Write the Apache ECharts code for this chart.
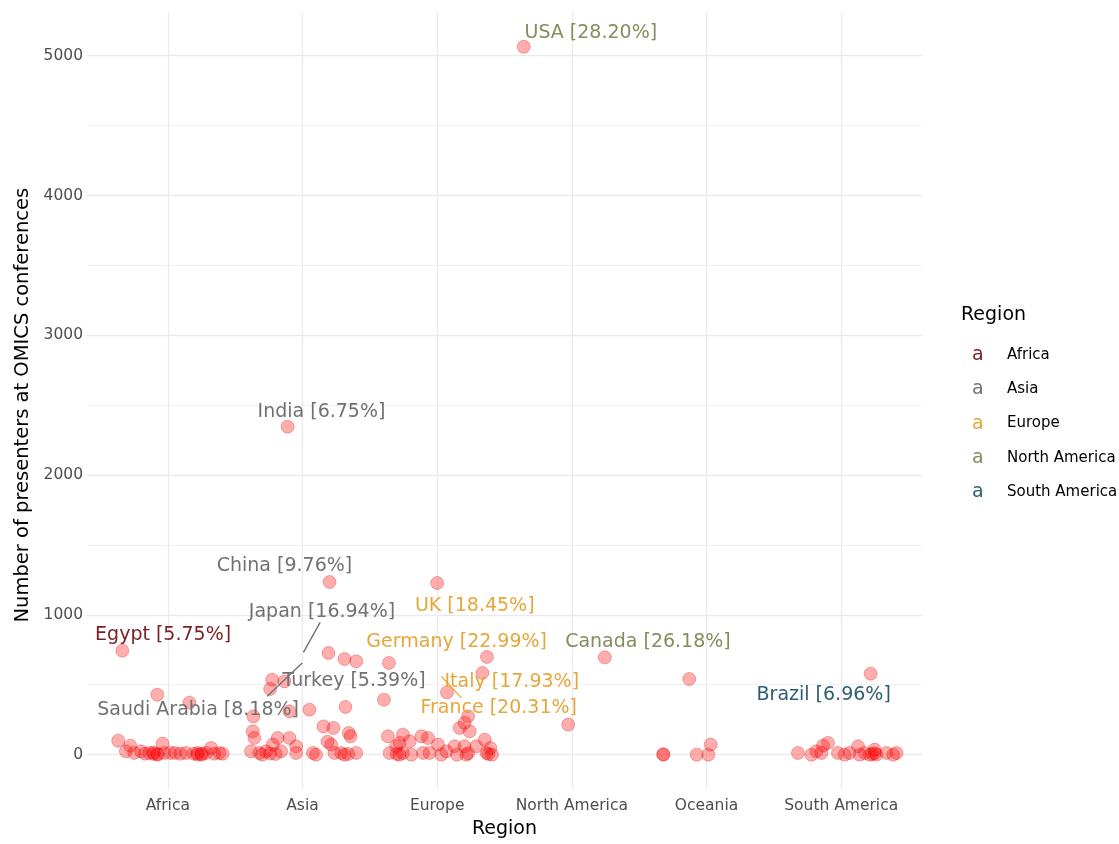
<!DOCTYPE html>
<html>
<head>
<meta charset="utf-8">
<script src="https://cdn.jsdelivr.net/npm/echarts@6/dist/echarts.min.js"></script>
<style>html,body{margin:0;padding:0;background:#fff}#c{width:1119px;height:844px}</style>
</head>
<body>
<div id="c"></div>
<script>
// ---- data (x = region index + jitter, y = number of presenters) ----
const regions = ['Africa', 'Asia', 'Europe', 'North America', 'Oceania', 'South America'];
const legendRegions = ['Africa', 'Asia', 'Europe', 'North America', 'South America'];

const africaPts = [[0.662,744],[0.922,429],[1.160,372],[0.632,100],
  [0.689,24],[0.721,64],[0.751,12],[0.801,24],[0.831,7],[0.863,12],[0.895,5],[0.924,5],[0.961,79],
  [0.974,12],[1.019,12],[1.053,12],[1.093,7],[1.135,12],[1.192,7],[1.221,12],[1.251,7],[1.284,12],
  [1.321,48],[1.345,7],[1.383,12],[1.407,7],[0.924,0],[1.221,0],[1.251,0],[0.895,15]];
const asiaPts = [[1.889,2346],[2.201,1235],
  [2.193,727],[2.312,684],[2.399,668],[1.775,536],[1.866,524],[1.760,470],[1.636,274],[1.903,310],
  [2.052,322],[2.319,341],[2.156,202],[2.230,191],[2.344,155],[2.357,131],
  [1.631,167],[1.643,119],[1.618,24],[1.680,12],[1.730,24],[1.779,72],[1.816,119],[1.841,24],
  [1.903,119],[1.953,60],[1.953,12],[2.077,12],[2.101,0],[2.213,72],[2.238,12],[2.287,12],
  [2.312,0],[2.399,12],[2.186,93],[1.700,0],[1.760,8],[1.800,5],[2.340,5]];
const europePts = [[3.000,1228],
  [2.642,656],[2.605,393],[3.370,699],[3.336,584],[3.073,446],[3.229,274],[3.204,227],[3.167,191],[3.241,167],
  [2.634,131],[2.647,12],[2.697,60],[2.721,84],[2.746,143],[2.746,12],[2.796,95],[2.808,0],[2.883,131],
  [2.895,12],[2.932,119],[2.944,12],[3.006,72],[3.031,0],[3.068,24],[3.130,60],[3.147,0],[3.204,60],
  [3.217,0],[3.291,60],[3.353,107],[3.366,12],[3.395,48],[3.407,0],[2.700,5],[2.720,0],[3.230,10],[3.380,5]];
const northAmericaPts = [[3.643,5064],[4.245,696],[3.973,215]];
const oceaniaPts = [[4.872,541],[4.679,0],[4.679,3],[4.927,0],[5.013,0],[5.031,72]];
const southAmericaPts = [[6.219,579],
  [5.679,12],[5.779,0],[5.816,24],[5.853,12],[5.865,64],[5.902,84],[5.976,12],[6.026,0],[6.063,12],
  [6.125,60],[6.137,0],[6.175,12],[6.212,0],[6.249,36],[6.262,0],[6.336,12],[6.386,0],[6.411,12],[6.230,5],[6.250,10]];

// country labels: [x, y, text]
const africaLabels = [[0.965, 858, 'Egypt [5.75%]']];
const asiaLabels = [[2.141, 2453, 'India [6.75%]'], [1.866, 1352, 'China [9.76%]'],
  [2.145, 1023, 'Japan [16.94%]'], [2.383, 529, 'Turkey [5.39%]'], [1.225, 322, 'Saudi Arabia [8.18%]']];
const europeLabels = [[3.279, 1066, 'UK [18.45%]'], [3.145, 808, 'Germany [22.99%]'],
  [3.554, 522, 'Italy [17.93%]'], [3.457, 336, 'France [20.31%]']];
const northAmericaLabels = [[4.141, 5165, 'USA [28.20%]'], [4.565, 808, 'Canada [26.18%]']];
const southAmericaLabels = [[5.870, 429, 'Brazil [6.96%]']];

// label connector segments
const asiaSegments = [[[2.131, 946], [2.007, 732]], [[1.998, 656], [1.738, 417]]];
const europeSegments = [[[3.031, 560], [3.180, 406]]];

const colors = {
  'Africa': '#7b1f22',
  'Asia': '#717171',
  'Europe': '#e6a73a',
  'North America': '#858d5a',
  'South America': '#2f5d74'
};
const FONT = 'DejaVu Sans';

const allPts = [].concat(africaPts, asiaPts, europePts, northAmericaPts, oceaniaPts, southAmericaPts);

const labelSets = [
  ['Africa', africaLabels], ['Asia', asiaLabels], ['Europe', europeLabels],
  ['North America', northAmericaLabels], ['South America', southAmericaLabels]
];

const chart = echarts.init(document.getElementById('c'), null, {renderer: 'canvas'});

const series = [{
  type: 'scatter', name: 'points', xAxisIndex: 0, yAxisIndex: 0,
  symbolSize: 13, silent: true, z: 2,
  itemStyle: {color: 'rgba(255,0,0,0.32)', borderColor: 'rgba(200,0,0,0.28)', borderWidth: 1, opacity: 1},
  data: allPts
}, {
  type: 'lines', coordinateSystem: 'cartesian2d', xAxisIndex: 0, yAxisIndex: 0, silent: true, z: 3,
  lineStyle: {width: 1.4, opacity: 1},
  data: asiaSegments.map(s => ({coords: s, lineStyle: {color: colors['Asia']}}))
    .concat(europeSegments.map(s => ({coords: s, lineStyle: {color: colors['Europe']}})))
}];
labelSets.forEach(([name, arr]) => {
  series.push({
    type: 'scatter', name: name, xAxisIndex: 0, yAxisIndex: 0, symbolSize: 1, silent: true, z: 5,
    itemStyle: {color: 'transparent', opacity: 1},
    label: {show: true, position: 'inside', formatter: p => p.data[2],
      color: colors[name], fontSize: 19, fontFamily: FONT},
    data: arr
  });
});

const option = {
  animation: false,
  backgroundColor: '#fff',
  title: {text: 'Region', left: 956, top: 301,
    textStyle: {fontFamily: FONT, fontSize: 19, fontWeight: 'normal', color: '#000'}},
  legend: {
    orient: 'vertical', left: 961, top: 340, itemWidth: 1, itemHeight: 1, itemGap: 14.3,
    icon: 'rect', itemStyle: {opacity: 0}, selectedMode: false,
    textStyle: {fontFamily: FONT, fontSize: 15, color: '#000', lineHeight: 20},
    formatter: name => '{k|a}' + name,
    data: legendRegions.map(r => ({name: r, textStyle: {rich: {k: {color: colors[r], fontSize: 19,
      width: 35, lineHeight: 20, fontFamily: FONT}}}}))
  },
  grid: [
    {left: 87, right: 197, top: 12, bottom: 54},
    {left: 167.8, right: 277.8, top: 12, bottom: 54},
    {left: 87, right: 197, top: 55.7, bottom: 89.4}
  ],
  xAxis: [
    {gridIndex: 0, type: 'value', min: 0.4, max: 6.6, show: false},
    {gridIndex: 1, type: 'category', boundaryGap: false, data: regions,
      axisLine: {show: false}, axisTick: {show: false},
      axisLabel: {color: '#4d4d4d', fontSize: 15.5, margin: 9, fontFamily: FONT, interval: 0},
      splitLine: {show: true, interval: 0, lineStyle: {color: '#ebebeb', width: 1.3}},
      name: 'Region', nameLocation: 'middle', nameGap: 31,
      nameTextStyle: {fontSize: 19, color: '#000', fontFamily: FONT}},
    {gridIndex: 2, type: 'value', min: 0, max: 1, show: false}
  ],
  yAxis: [
    {gridIndex: 0, type: 'value', min: -253, max: 5313, show: false},
    {gridIndex: 1, type: 'value', min: 0, max: 1, show: false},
    {gridIndex: 2, type: 'value', min: 0, max: 5000, interval: 1000,
      axisLine: {show: false}, axisTick: {show: false},
      axisLabel: {color: '#4d4d4d', fontSize: 15.5, margin: 4, fontFamily: FONT,
        formatter: v => String(v)},
      splitLine: {show: true, lineStyle: {color: '#ebebeb', width: 1.3}},
      minorTick: {show: false, splitNumber: 2},
      minorSplitLine: {show: true, lineStyle: {color: '#f1f1f1', width: 1}},
      name: 'Number of presenters at OMICS conferences', nameLocation: 'middle', nameGap: 52,
      nameTextStyle: {fontSize: 19.5, color: '#000', fontFamily: FONT}}
  ],
  series: series
};
chart.setOption(option);
</script>
</body>
</html>
